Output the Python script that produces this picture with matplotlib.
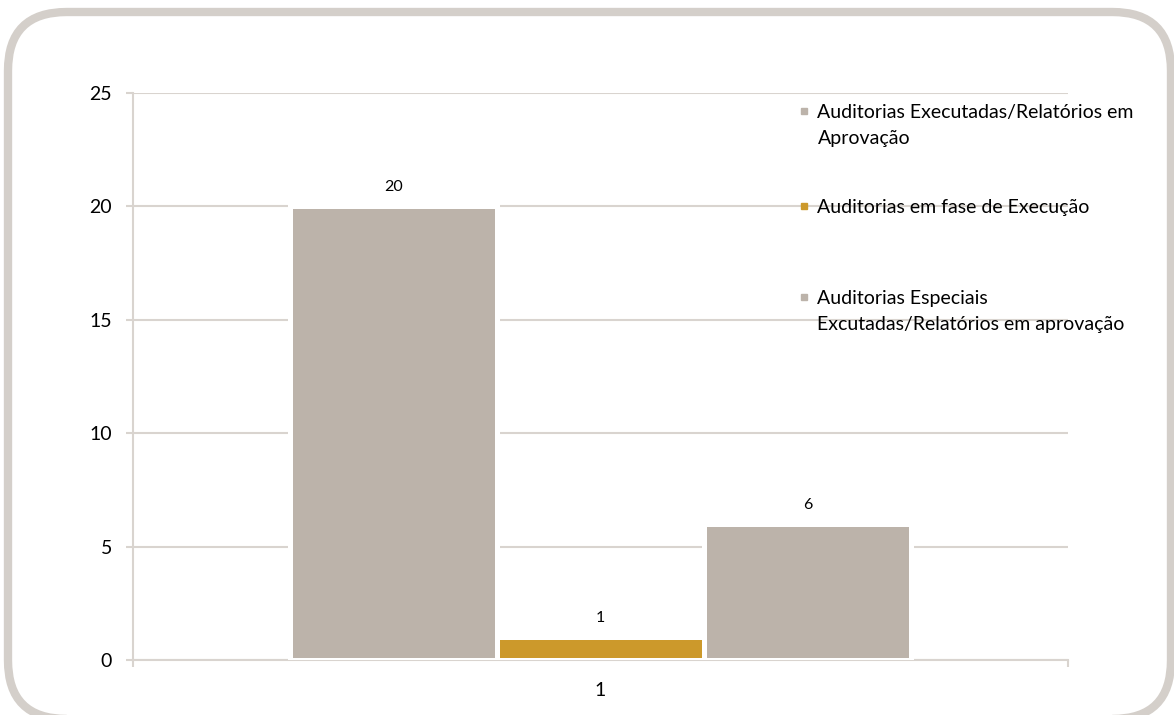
import matplotlib
matplotlib.use('agg')
import matplotlib.pyplot as plt
from matplotlib.patches import FancyBboxPatch
from matplotlib.lines import Line2D

plt.rcParams['font.family'] = ['Lato', 'DejaVu Sans']

categories = ['1']
series = ['Auditorias Executadas/Relatórios em\nAprovação',
          'Auditorias em fase de Execução',
          'Auditorias Especiais\nExcutadas/Relatórios em aprovação']
values = [20, 1, 6]
colors = ['#bcb3aa', '#cc992b', '#bcb3aa']
yticks = [0, 5, 10, 15, 20, 25]

grid_c = '#d9d4cf'

fig = plt.figure(figsize=(11.74, 7.15), dpi=100)
ax = fig.add_axes([133 / 1174, 1 - 660 / 715, 935 / 1174, 567 / 715])

# rounded frame around the whole chart (bottom edge runs off the image)
frame = FancyBboxPatch((8 / 1174, -4 / 715), 1163 / 1174, 707 / 715,
                       boxstyle='round,pad=0,rounding_size=0.05',
                       transform=fig.transFigure, fill=False,
                       ec='#d4cfca', lw=6, clip_on=False,
                       mutation_aspect=1174 / 715)
fig.patches.append(frame)

w = 0.2214
offsets = [-w, 0, w]
for v, c, off in zip(values, colors, offsets):
    ax.bar(off, v, width=w, color=c, edgecolor='white', linewidth=3.6, zorder=3)
    ax.text(off, v + 0.85, str(v), ha='center', va='center', fontsize=11.5, zorder=4)

ax.set_xlim(-0.5, 0.5)
ax.set_ylim(0, 25)
ax.set_yticks(yticks)
ax.yaxis.grid(True, color=grid_c, linewidth=1.5, zorder=0)
ax.set_axisbelow(True)

ax.set_xticks([0])
ax.set_xticklabels(categories)
ax.set_xticks([-0.5, 0.5], minor=True)
ax.tick_params(axis='x', which='major', length=0, pad=16, labelsize=14)
ax.tick_params(axis='x', which='minor', length=5, width=1.5, color=grid_c)
ax.tick_params(axis='y', length=5, width=1.5, color=grid_c, pad=10, labelsize=14)

for s in ['top', 'right']:
    ax.spines[s].set_visible(False)
for s in ['left', 'bottom']:
    ax.spines[s].set_color(grid_c)
    ax.spines[s].set_linewidth(1.5)

# legend entries, placed one by one; marker sits on the first line
leg_y = [1 - 104 / 715, 1 - 199 / 715, 1 - 290 / 715]
legends = []
for lab, c, y in zip(series, colors, leg_y):
    first = lab.split('\n')[0]
    h = Line2D([], [], marker='s', ls='none', color=c, markersize=5)
    lg = fig.legend([h], [first], loc='upper left', bbox_to_anchor=(799 / 1174, y),
                    frameon=False, fontsize=14, handlelength=0.5,
                    handletextpad=0.45, borderpad=0, borderaxespad=0)
    legends.append(lg)

fig.canvas.draw()
inv = fig.transFigure.inverted()
for lab, lg in zip(series, legends):
    rest = lab.split('\n')[1:]
    if not rest:
        continue
    bb = lg.get_texts()[0].get_window_extent()
    x0, y0 = inv.transform((bb.x0, bb.y0))
    fig.text(x0, y0 - 26 / 715, '\n'.join(rest), fontsize=14, ha='left', va='bottom')

plt.savefig('out.png', dpi=100)
